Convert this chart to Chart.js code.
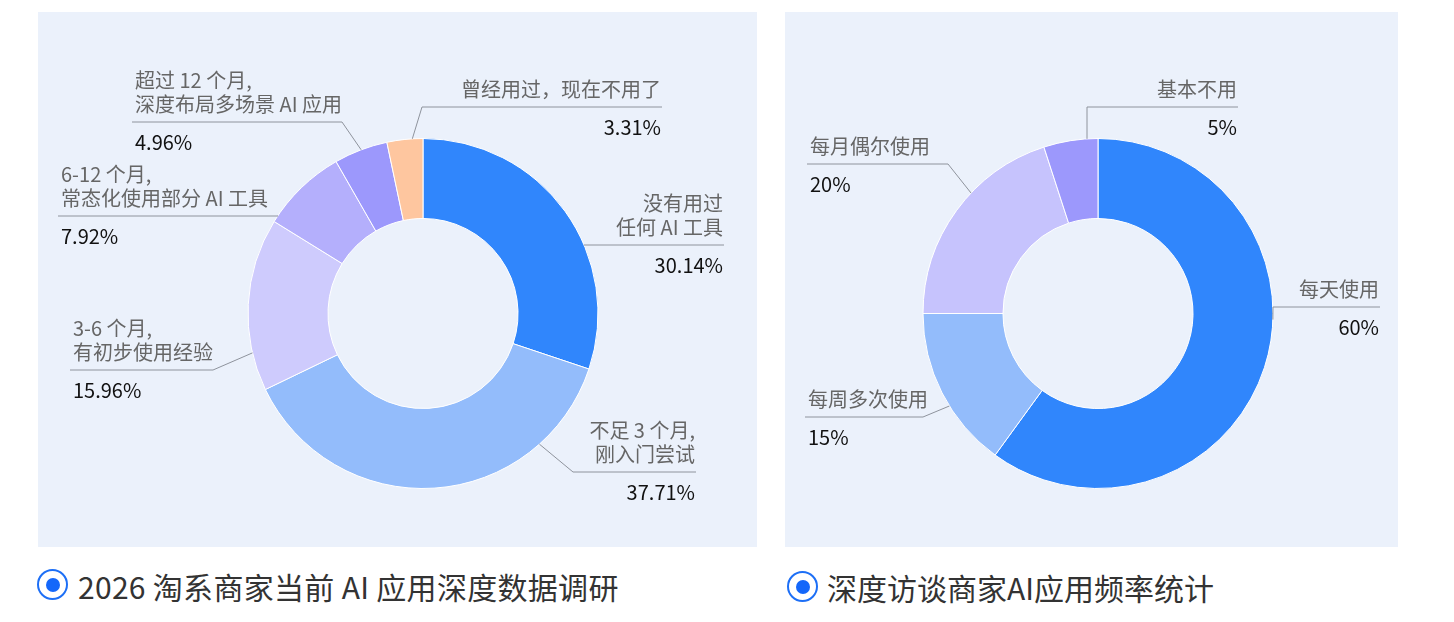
<!DOCTYPE html>
<html>
<head>
<meta charset="utf-8">
<script src="https://cdn.jsdelivr.net/npm/chart.js@4.4.1/dist/chart.umd.min.js"></script>
<style>
  html, body { margin: 0; padding: 0; background: #ffffff; width: 1454px; height: 622px; overflow: hidden; }
  body { position: relative; font-family: "Noto Sans CJK SC", "Noto Sans", sans-serif; }
  .panel { position: absolute; top: 12px; height: 535px; background: #EBF1FB; }
  .panel canvas { position: absolute; left: 0; top: 0; }
  .caption { position: absolute; top: 566px; height: 40px; line-height: 40px; font-size: 30px; color: #333333; white-space: nowrap; }
  .dot { position: absolute; width: 27px; height: 27px; border: 2px solid #1D6FF6; border-radius: 50%; box-sizing: content-box; }
  .dot::after { content: ""; position: absolute; left: 6.5px; top: 6.5px; width: 14px; height: 14px; border-radius: 50%; background: #1467FA; }
</style>
</head>
<body>
<div class="panel" id="p1" style="left:38px;width:719px;"><canvas id="c1" width="719" height="535"></canvas></div>
<div class="panel" id="p2" style="left:785px;width:613px;"><canvas id="c2" width="613" height="535"></canvas></div>
<div class="dot" style="left:37px;top:569px;"></div>
<div class="caption" style="left:78px;letter-spacing:0.3px;">2026 淘系商家当前 AI 应用深度数据调研</div>
<div class="dot" style="left:787px;top:571px;"></div>
<div class="caption" style="left:827px;top:567px;">深度访谈商家AI应用频率统计</div>
<script>
// ---------- data ----------
const depthLabels = [
  ["没有用过", "任何 AI 工具"],
  ["不足 3 个月,", "刚入门尝试"],
  ["3-6 个月,", "有初步使用经验"],
  ["6-12 个月,", "常态化使用部分 AI 工具"],
  ["超过 12 个月,", "深度布局多场景 AI 应用"],
  ["曾经用过，现在不用了"]
];
const depthValues = [30.14, 37.71, 15.96, 7.92, 4.96, 3.31];
const depthColors = ["#3086FC", "#93BCFB", "#CECBFD", "#B4AFFC", "#9C98FC", "#FEC69F"];

const freqLabels = [["每天使用"], ["每周多次使用"], ["每月偶尔使用"], ["基本不用"]];
const freqValues = [60, 15, 20, 5];
const freqColors = ["#3086FC", "#93BCFB", "#C6C3FD", "#9C98FC"];

// ---------- label layout (leader lines: start angle on ring, elbow offset from centre, line end x offset) ----------
const depthLayout = [
  { startDeg: 66.9,  elbow: [161, -68.5],  endX: 301,  side: "right" },
  { startDeg: 138.3, elbow: [150, 158.5],  endX: 273,  side: "right" },
  { startDeg: 257,   elbow: [-210, 56.5],  endX: -353, side: "left" },
  { startDeg: 303.9, elbow: [-145, -97.5], endX: -365, side: "left" },
  { startDeg: 339.3, elbow: [-81, -191.5], endX: -291, side: "left" },
  { startDeg: 356.5, elbow: [-1, -206.5],  endX: 239,  side: "right" }
];
const freqLayout = [
  { startDeg: 92,    elbow: [175, -6.5],   endX: 282,  side: "right" },
  { startDeg: 238.1, elbow: [-175, 103.5], endX: -293, side: "left" },
  { startDeg: 313.5, elbow: [-150, -149.5],endX: -291, side: "left" },
  { startDeg: 356.4, elbow: [-11, -206.5], endX: 140,  side: "right" }
];

const labelFont = '20px "Noto Sans CJK SC", "Noto Sans", sans-serif';

const leaderPlugin = {
  id: "leaderLabels",
  afterDatasetsDraw(chart, args, opts) {
    const ctx = chart.ctx;
    const meta = chart.getDatasetMeta(0);
    const ds = chart.data.datasets[0];
    const layout = opts.layout;
    meta.data.forEach((arc, i) => {
      const p = arc.getProps(["x", "y", "outerRadius"], true);
      const L = layout[i];
      const a = L.startDeg * Math.PI / 180;
      const sx = p.x + p.outerRadius * Math.sin(a);
      const sy = p.y - p.outerRadius * Math.cos(a);
      const ex = p.x + L.elbow[0];
      const ey = p.y + L.elbow[1];
      const endX = p.x + L.endX;
      ctx.save();
      ctx.strokeStyle = "#8E939C";
      ctx.lineWidth = 1;
      ctx.beginPath();
      ctx.moveTo(sx, sy);
      ctx.lineTo(ex, ey);
      ctx.lineTo(endX, ey);
      ctx.stroke();
      ctx.font = labelFont;
      ctx.textBaseline = "middle";
      let tx;
      if (L.side === "right") { ctx.textAlign = "right"; tx = endX - 1; }
      else { ctx.textAlign = "left"; tx = endX + 3; }
      const lines = chart.data.labels[i];
      ctx.fillStyle = "#666666";
      for (let k = 0; k < lines.length; k++) {
        const off = -18 - 24 * (lines.length - 1 - k);
        ctx.fillText(lines[k], tx, ey + off);
      }
      ctx.fillStyle = "#111111";
      ctx.fillText(ds.data[i] + "%", tx, ey + 20);
      ctx.restore();
    });
  }
};

function makeChart(id, labels, values, colors, layout, pad) {
  return new Chart(document.getElementById(id), {
    type: "doughnut",
    data: {
      labels: labels,
      datasets: [{
        data: values,
        backgroundColor: colors,
        borderColor: "#FFFFFF",
        borderWidth: 1,
        hoverOffset: 0
      }]
    },
    options: {
      responsive: false,
      animation: false,
      radius: 175,
      cutout: "54.3%",
      layout: { padding: pad },
      plugins: {
        legend: { display: false },
        tooltip: { enabled: false },
        leaderLabels: { layout: layout }
      },
      events: []
    },
    plugins: [leaderPlugin]
  });
}

makeChart("c1", depthLabels, depthValues, depthColors, depthLayout, { left: 51, right: 0, top: 68, bottom: 0 });
makeChart("c2", freqLabels, freqValues, freqColors, freqLayout, { left: 13, right: 0, top: 68, bottom: 0 });
</script>
</body>
</html>
